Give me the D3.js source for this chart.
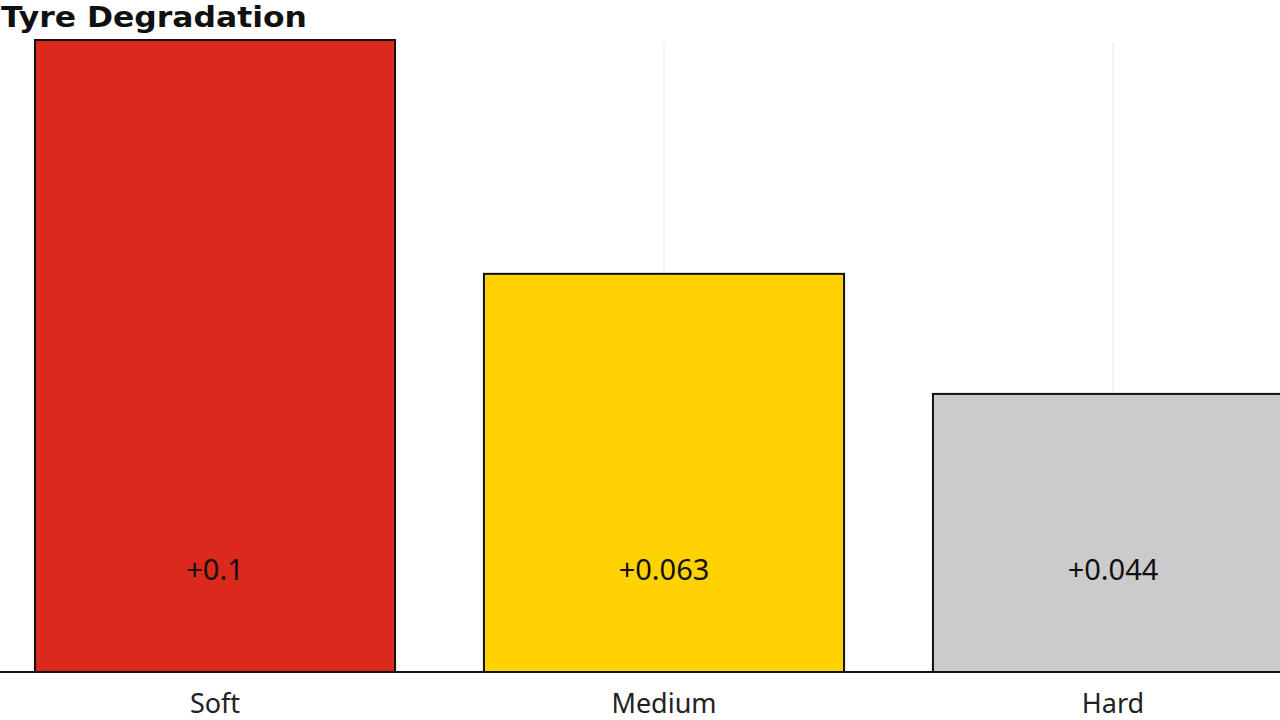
<!DOCTYPE html>
<html>
<head>
<meta charset="utf-8">
<script src="https://cdn.jsdelivr.net/npm/d3@7"></script>
<style>
  html, body { margin: 0; padding: 0; background: #fff; overflow: hidden; }
  svg { display: block; }
</style>
</head>
<body>
<script>
  // chart values
  let compounds = ["Soft", "Medium", "Hard"];
  let degradation = [0.1, 0.063, 0.044];
  let valueLabels = ["+0.1", "+0.063", "+0.044"];
  let compoundColors = ["#dc291e", "#ffd200", "#cbcbcb"];

  let width = 1280, height = 720;

  let svg = d3.select("body").append("svg")
    .attr("width", width)
    .attr("height", height);

  // band scale, last bar runs off the right edge like the original
  let xScale = d3.scaleBand()
    .domain(compounds)
    .range([-9.5, 1337.5])
    .paddingInner(0.198)
    .paddingOuter(0.099);

  let yScale = d3.scaleLinear()
    .domain([0, 0.1])
    .range([672, 40]);

  let rows = compounds.map((c, i) => ({
    name: c, value: degradation[i], label: valueLabels[i], color: compoundColors[i]
  }));

  // vertical gridlines at category centres
  svg.append("g").selectAll("line")
    .data(compounds)
    .enter()
    .append("line")
      .attr("x1", (d) => xScale(d) + xScale.bandwidth() / 2)
      .attr("x2", (d) => xScale(d) + xScale.bandwidth() / 2)
      .attr("y1", 42)
      .attr("y2", 672)
      .attr("stroke", "#e6e6e6")
      .attr("stroke-width", 1);

  svg.append("g").selectAll("rect")
    .data(rows)
    .enter()
    .append("rect")
      .attr("x", (d) => xScale(d.name))
      .attr("y", (d) => yScale(d.value))
      .attr("width", xScale.bandwidth())
      .attr("height", (d) => yScale(0) - yScale(d.value))
      .attr("fill", (d) => d.color)
      .attr("stroke", "#111")
      .attr("stroke-width", 2);

  // value labels inside bars
  svg.append("g").selectAll("text")
    .data(rows)
    .enter()
    .append("text")
      .attr("x", (d) => xScale(d.name) + xScale.bandwidth() / 2)
      .attr("y", 570)
      .attr("dy", "0.35em")
      .attr("text-anchor", "middle")
      .attr("font-family", "'Noto Sans', sans-serif")
      .attr("font-size", 29)
      .attr("fill", "#111")
      .text((d) => d.label);

  // x axis
  let xAxis = d3.axisBottom(xScale).tickSize(0).tickPadding(22);
  let axisG = svg.append("g")
    .attr("transform", "translate(0, 672)")
    .call(xAxis);
  axisG.select(".domain").remove();
  axisG.selectAll("text")
    .attr("font-family", "'Noto Sans', sans-serif")
    .attr("font-size", 27)
    .attr("fill", "#222");

  svg.append("line")
    .attr("x1", 0)
    .attr("x2", width)
    .attr("y1", 672)
    .attr("y2", 672)
    .attr("stroke", "#111")
    .attr("stroke-width", 2);

  // title
  svg.append("text")
    .attr("x", 1)
    .attr("y", 27)
    .attr("font-family", "'DejaVu Sans', sans-serif")
    .attr("font-weight", "bold")
    .attr("font-size", 28)
    .attr("textLength", 306)
    .attr("lengthAdjust", "spacingAndGlyphs")
    .attr("fill", "#111")
    .text("Tyre Degradation");
</script>
</body>
</html>
